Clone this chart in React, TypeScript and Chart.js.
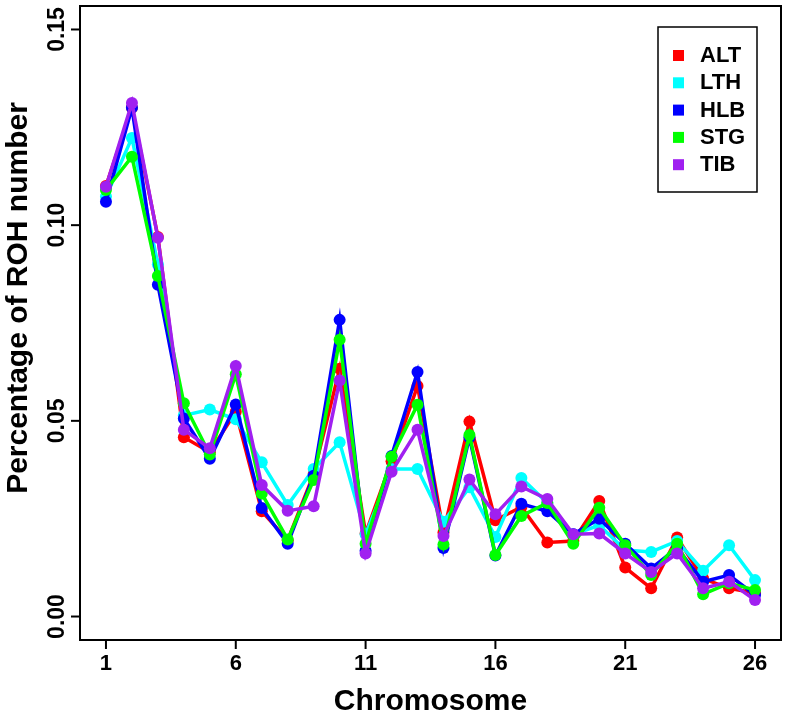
import React, { useEffect, useRef } from "react";
import { Chart, registerables } from "chart.js";

Chart.register(...registerables);

const chromosomes = [1, 2, 3, 4, 5, 6, 7, 8, 9, 10, 11, 12, 13, 14, 15, 16, 17, 18, 19, 20, 21, 22, 23, 24, 25, 26];
const xTicks = [1, 6, 11, 16, 21, 26];
const yTicks = [0, 0.05, 0.1, 0.15];
const yTickLabels = ["0.00", "0.05", "0.10", "0.15"];

const ALT = [0.110, 0.130, 0.097, 0.0458, 0.042, 0.0523, 0.0269, 0.0195, 0.0364, 0.0633, 0.0212, 0.0397, 0.0589, 0.0215, 0.0498, 0.0246, 0.028, 0.0189, 0.0193, 0.0295, 0.0125, 0.0072, 0.0202, 0.0097, 0.0072, 0.006];
const LTH = [0.1073, 0.1223, 0.090, 0.0514, 0.0529, 0.0504, 0.0394, 0.0285, 0.0377, 0.0445, 0.021, 0.0377, 0.0377, 0.0242, 0.033, 0.0203, 0.0354, 0.029, 0.021, 0.0233, 0.017, 0.0165, 0.0193, 0.0117, 0.0182, 0.0093];
const HLB = [0.106, 0.130, 0.0848, 0.0506, 0.0403, 0.0542, 0.0277, 0.0186, 0.036, 0.0758, 0.0168, 0.041, 0.0625, 0.0175, 0.0458, 0.0156, 0.0288, 0.0269, 0.021, 0.025, 0.0186, 0.0123, 0.0175, 0.0089, 0.0106, 0.0055];
const STG = [0.109, 0.1175, 0.087, 0.0545, 0.0414, 0.0619, 0.0314, 0.0197, 0.0349, 0.0707, 0.0186, 0.0408, 0.0541, 0.0184, 0.0464, 0.0157, 0.0257, 0.029, 0.0186, 0.0278, 0.0182, 0.0106, 0.0186, 0.0057, 0.0085, 0.0068];
const TIB = [0.1098, 0.1312, 0.0968, 0.0477, 0.043, 0.064, 0.0336, 0.027, 0.0282, 0.0603, 0.0161, 0.037, 0.0477, 0.0206, 0.035, 0.0261, 0.0332, 0.030, 0.021, 0.0212, 0.0161, 0.0114, 0.0161, 0.0072, 0.0089, 0.0042];

const seriesNames = ["ALT", "LTH", "HLB", "STG", "TIB"];
const seriesValues = [ALT, LTH, HLB, STG, TIB];
const seriesColors = ["#FF0000", "#00FFFF", "#0000FF", "#00FF00", "#A020F0"];

const FONT = "'Liberation Sans', Arial, Helvetica, sans-serif";

const axesPlugin = {
  id: "rAxes",
  afterDraw(chart: any) {
    const ctx = chart.ctx;
    const area = chart.chartArea;
    const xs = chart.scales.x;
    const ys = chart.scales.y;
    ctx.save();
    ctx.strokeStyle = "#000";
    ctx.lineWidth = 2;
    ctx.strokeRect(area.left, area.top, area.right - area.left, area.bottom - area.top);

    // y ticks
    ctx.fillStyle = "#000";
    ctx.font = `bold 23px ${FONT}`;
    ctx.textAlign = "center";
    ctx.textBaseline = "middle";
    yTicks.forEach((v, i) => {
      const py = ys.getPixelForValue(v);
      ctx.beginPath();
      ctx.moveTo(area.left, py);
      ctx.lineTo(area.left - 9, py);
      ctx.stroke();
      ctx.save();
      ctx.translate(57, py);
      ctx.rotate(-Math.PI / 2);
      ctx.fillText(yTickLabels[i], 0, 1);
      ctx.restore();
    });
    // x ticks
    ctx.font = `bold 22px ${FONT}`;
    xTicks.forEach((v) => {
      const px = xs.getPixelForValue(v);
      ctx.beginPath();
      ctx.moveTo(px, area.bottom);
      ctx.lineTo(px, area.bottom + 9);
      ctx.stroke();
      ctx.fillText(String(v), px, 664);
    });
    // axis titles
    ctx.font = `bold 30px ${FONT}`;
    ctx.fillText("Chromosome", (area.left + area.right) / 2, 702);
    ctx.save();
    ctx.translate(19, 298);
    ctx.rotate(-Math.PI / 2);
    ctx.fillText("Percentage of ROH number", 0, 0);
    ctx.restore();

    // legend
    ctx.fillStyle = "#fff";
    ctx.fillRect(658, 27, 99, 165);
    ctx.lineWidth = 1.5;
    ctx.strokeRect(658, 27, 99, 165);
    ctx.font = `bold 22px ${FONT}`;
    ctx.textAlign = "left";
    seriesNames.forEach((name, i) => {
      const cy = 55 + i * 27.3;
      ctx.fillStyle = seriesColors[i];
      ctx.fillRect(673, cy - 5, 11, 11);
      ctx.fillStyle = "#000";
      ctx.fillText(name, 700, cy + 1);
    });
    ctx.restore();
  },
};

export default function App() {
  const ref = useRef<HTMLCanvasElement | null>(null);
  useEffect(() => {
    document.body.style.margin = "0";
    const canvas = ref.current!;
    const chart = new Chart(canvas, {
      type: "line",
      data: {
        datasets: seriesNames.map((name, i) => ({
          label: name,
          data: chromosomes.map((c, j) => ({ x: c, y: seriesValues[i][j] })),
          borderColor: seriesColors[i],
          backgroundColor: seriesColors[i],
          pointBackgroundColor: seriesColors[i],
          pointBorderWidth: 0,
          pointRadius: 6,
          borderWidth: 3.5,
          tension: 0,
          fill: false,
          order: seriesNames.length - i,
        })),
      },
      options: {
        animation: false,
        responsive: false,
        devicePixelRatio: 1,
        layout: { padding: { left: 80, top: 3, right: 3, bottom: 76 } },
        plugins: { legend: { display: false }, tooltip: { enabled: false } },
        scales: {
          x: { type: "linear", min: 0, max: 27, display: false },
          y: { type: "linear", min: -0.006, max: 0.156, display: false },
        },
      },
      plugins: [axesPlugin],
    });
    return () => chart.destroy();
  }, []);
  return <canvas ref={ref} width={787} height={716} style={{ display: "block" }} />;
}
